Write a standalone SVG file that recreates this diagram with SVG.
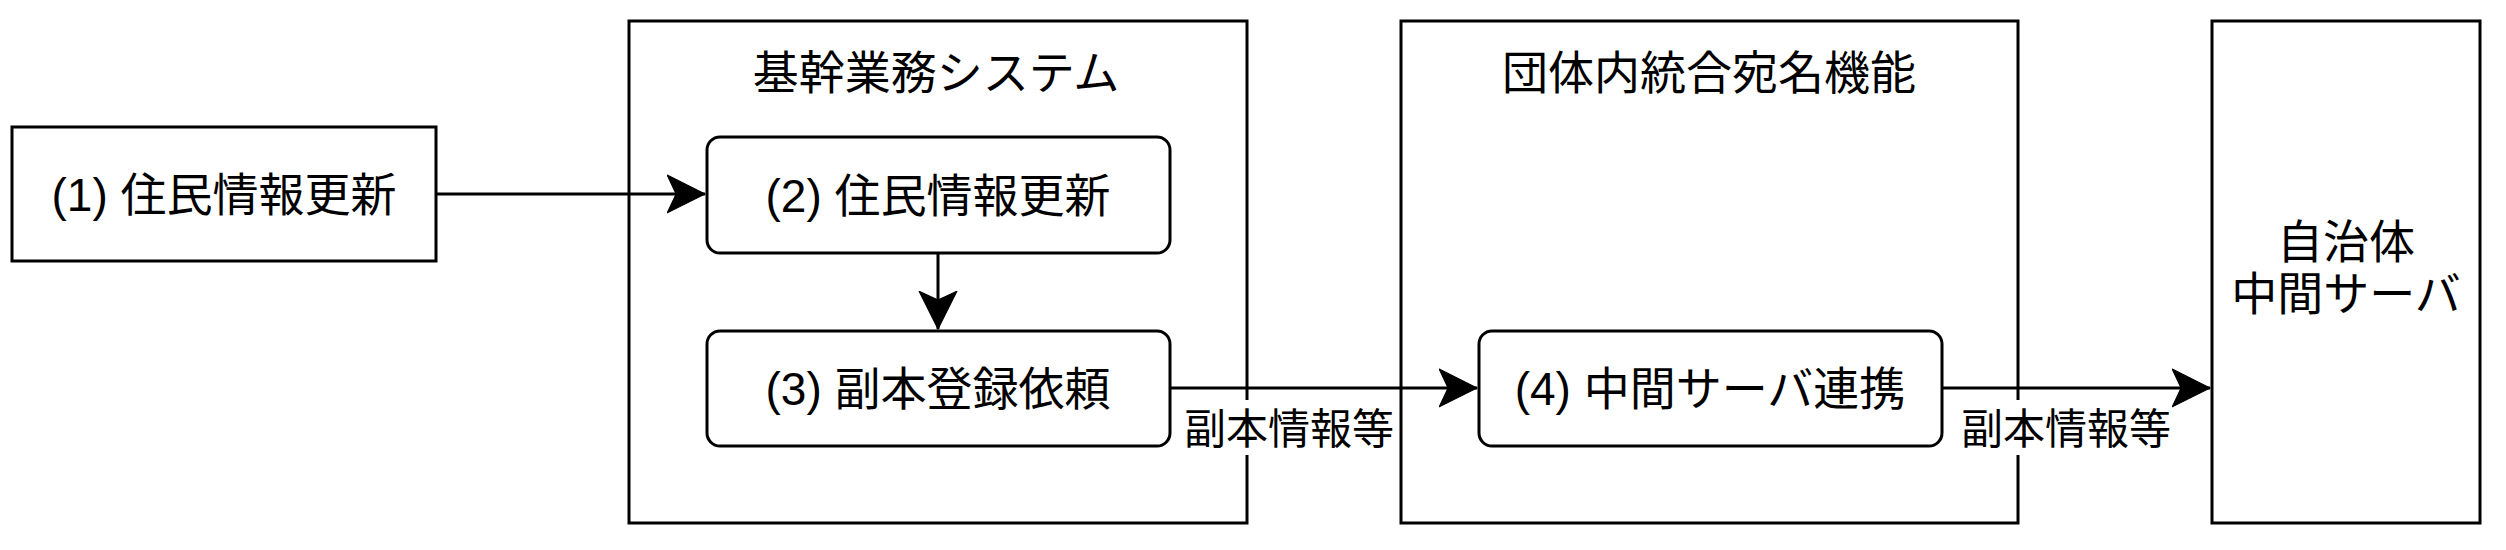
<svg xmlns="http://www.w3.org/2000/svg" width="2506" height="550" viewBox="0 0 2506 550">
<style>
.box{fill:#fff;stroke:#000;stroke-width:3}
.t{font-family:"Liberation Sans","Noto Sans CJK JP",sans-serif;font-size:46px;fill:#000;text-anchor:middle}
.lbl{font-family:"Liberation Sans","Noto Sans CJK JP",sans-serif;font-size:42px;fill:#000;text-anchor:middle}
.edge{stroke:#000;stroke-width:3;fill:none}
</style>
<defs>
<marker id="arr" markerUnits="userSpaceOnUse" markerWidth="40" markerHeight="40" viewBox="0 0 36 36" refX="34" refY="18" orient="auto">
<path d="M0,1 L34,18 L0,35 L8,18 Z" fill="#000" stroke="#000" stroke-width="1"/>
</marker>
</defs>
<rect width="2506" height="550" fill="#fff"/>
<g id="container-kikan">
<rect class="box" x="629" y="21" width="618" height="502"/>
<text class="t" x="936" y="89">基幹業務システム</text>
</g>
<g id="container-dantai">
<rect class="box" x="1401" y="21" width="617" height="502"/>
<text class="t" x="1709" y="89">団体内統合宛名機能</text>
</g>
<g id="node-1">
<rect class="box" x="12" y="127" width="424" height="134"/>
<text class="t" x="224" y="211">(1) 住民情報更新</text>
</g>
<g id="node-2">
<rect class="box" x="707" y="137" width="463" height="116" rx="13"/>
<text class="t" x="938" y="212">(2) 住民情報更新</text>
</g>
<g id="node-3">
<rect class="box" x="707" y="331" width="463" height="115" rx="13"/>
<text class="t" x="938" y="405">(3) 副本登録依頼</text>
</g>
<g id="node-4">
<rect class="box" x="1479" y="331" width="463" height="115" rx="13"/>
<text class="t" x="1710" y="405">(4) 中間サーバ連携</text>
</g>
<g id="node-server">
<rect class="box" x="2212" y="21" width="268" height="502"/>
<text class="t" x="2346" y="258">自治体</text>
<text class="t" x="2346" y="310">中間サーバ</text>
</g>
<g id="connectors">
<path class="edge" d="M436,194 L705,194" marker-end="url(#arr)"/>
<path class="edge" d="M938,253 L938,329" marker-end="url(#arr)"/>
<path class="edge" d="M1170,388 L1477,388" marker-end="url(#arr)"/>
<path class="edge" d="M1942,388 L2210,388" marker-end="url(#arr)"/>
<rect x="1184" y="400" width="211" height="55" fill="#fff"/>
<text class="lbl" x="1289" y="444">副本情報等</text>
<rect x="1960" y="400" width="212" height="55" fill="#fff"/>
<text class="lbl" x="2066" y="444">副本情報等</text>
</g>
</svg>
